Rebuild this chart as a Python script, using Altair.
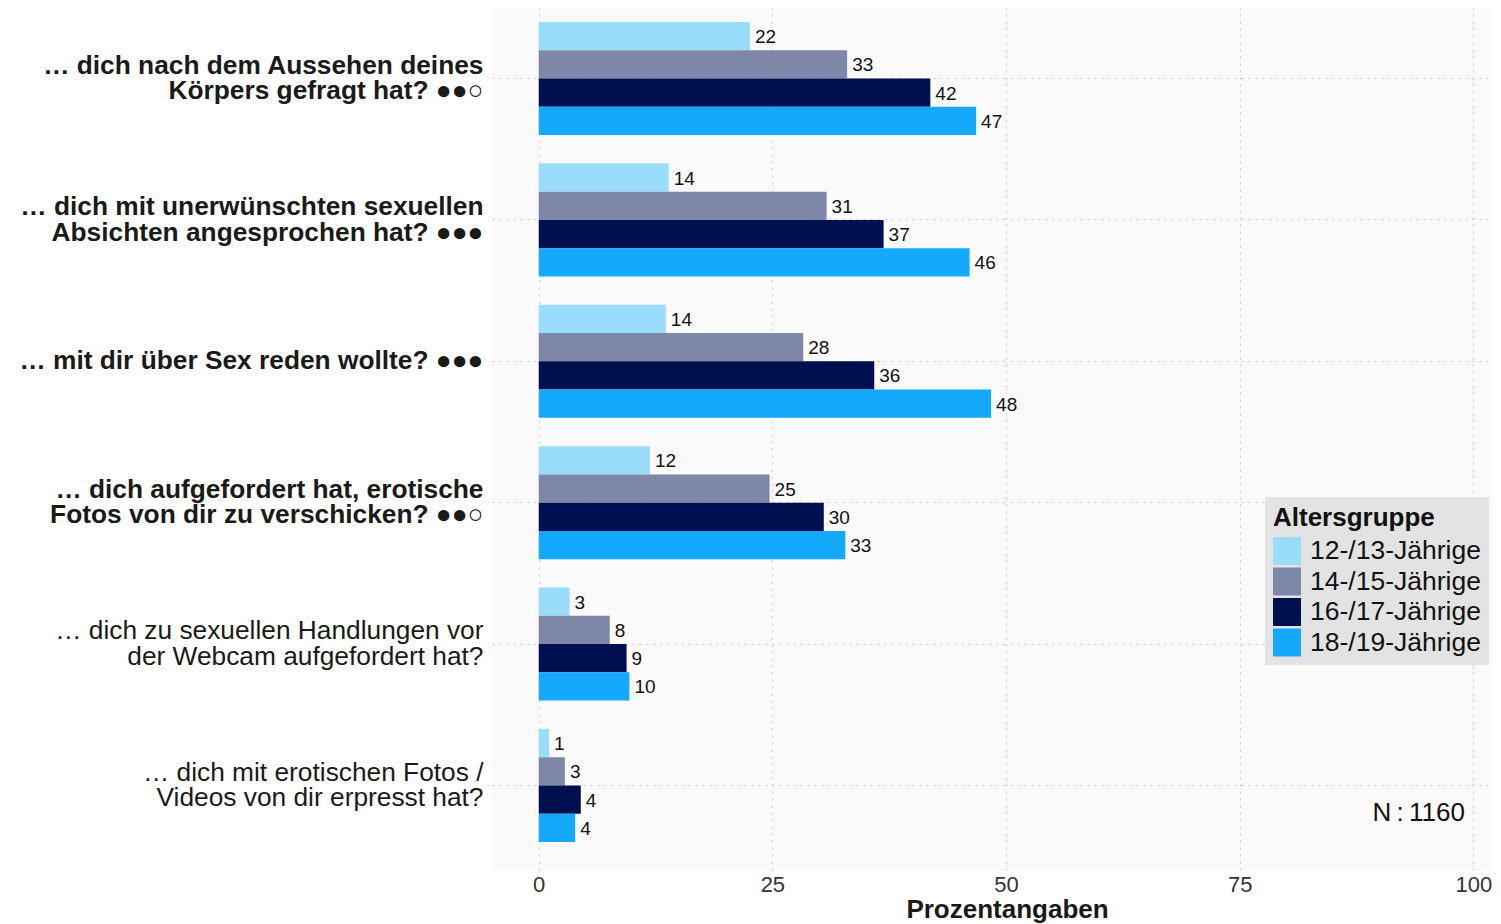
import altair as alt
import pandas as pd

categories = [
    "… dich nach dem Aussehen deines|Körpers gefragt hat? ●●○",
    "… dich mit unerwünschten sexuellen|Absichten angesprochen hat? ●●●",
    "… mit dir über Sex reden wollte? ●●●",
    "… dich aufgefordert hat, erotische|Fotos von dir zu verschicken? ●●○",
    "… dich zu sexuellen Handlungen  vor|der Webcam aufgefordert hat?",
    "… dich mit erotischen Fotos /|Videos von dir erpresst hat?",
]
groups = ["12-/13-Jährige", "14-/15-Jährige", "16-/17-Jährige", "18-/19-Jährige"]
colors = ["#9ADCFB", "#7F87A8", "#000F50", "#14A9FA"]

# bar lengths (percent)
vals_12_13 = [22.6, 13.9, 13.6, 11.9, 3.3, 1.1]
vals_14_15 = [33.0, 30.8, 28.3, 24.7, 7.6, 2.8]
vals_16_17 = [41.9, 36.9, 35.9, 30.5, 9.4, 4.5]
vals_18_19 = [46.8, 46.1, 48.4, 32.8, 9.7, 3.9]
# printed labels
lab_12_13 = [22, 14, 14, 12, 3, 1]
lab_14_15 = [33, 31, 28, 25, 8, 3]
lab_16_17 = [42, 37, 36, 30, 9, 4]
lab_18_19 = [47, 46, 48, 33, 10, 4]

note_text = "N\u2009:\u20091160"
note_x = 99.1

rows = []
for g, vs, ls in zip(groups,
                     [vals_12_13, vals_14_15, vals_16_17, vals_18_19],
                     [lab_12_13, lab_14_15, lab_16_17, lab_18_19]):
    for c, v, l in zip(categories, vs, ls):
        rows.append({"cat": c, "group": g, "value": v, "label": str(l)})
df = pd.DataFrame(rows)

FONT = "Liberation Sans"
GRID = "#c6c6c6"
DASH = [2, 5]

xscale = alt.Scale(domain=[-5, 102], nice=False, zero=False)

base = alt.Chart(df).encode(
    y=alt.Y(
        "cat:N",
        sort=categories,
        scale=alt.Scale(paddingInner=0.2, paddingOuter=0.1485, align=0.333),
        axis=alt.Axis(
            title=None,
            labelExpr="split(datum.label, '|')",
            labelFontSize=26.3,
            labelLineHeight=25.5,
            labelFont=FONT,
            labelColor="#1a1a1a",
            labelPadding=9,
            labelLimit=0,
            labelBaseline="middle",
            labelOffset={
                "condition": {"test": "indexof(datum.value, '|') >= 0", "value": -12.7},
                "value": 0,
            },
            ticks=False,
            domain=False,
            grid=True,
            gridColor=GRID,
            gridDash=DASH,
            labelFontWeight={
                "condition": {"test": "indexof(datum.value, '●') >= 0", "value": "bold"},
                "value": "normal",
            },
        ),
    ),
    yOffset=alt.YOffset("group:N", sort=groups),
    x=alt.X(
        "value:Q",
        scale=xscale,
        axis=alt.Axis(
            values=[0, 25, 50, 75, 100],
            title="Prozentangaben",
            titleFontSize=26,
            titleFontWeight="bold",
            titleFont=FONT,
            titleColor="#1a1a1a",
            titlePadding=1,
            titleX=515,
            titleAlign="center",
            labelFontSize=22,
            labelFont=FONT,
            labelColor="#333333",
            labelPadding=4,
            labelFlush=False,
            ticks=False,
            domain=False,
            grid=True,
            gridColor=GRID,
            gridDash=DASH,
        ),
    ),
)

bars = base.mark_bar().encode(
    color=alt.Color(
        "group:N",
        sort=groups,
        scale=alt.Scale(domain=groups, range=colors),
        legend=alt.Legend(
            orient="none",
            legendX=773,
            legendY=489,
            fillColor="#e3e3e3",
            padding=8,
            title="Altersgruppe",
            titleFontSize=26,
            titleFontWeight="bold",
            titleFont=FONT,
            titleColor="#111111",
            titlePadding=6,
            labelFontSize=26.5,
            labelFont=FONT,
            labelColor="#111111",
            labelOffset=9,
            labelLimit=0,
            symbolType="square",
            symbolSize=784,
            symbolStrokeWidth=0,
            symbolOpacity=1,
            rowPadding=2.5,
        ),
    )
)

labels = base.mark_text(
    align="left", baseline="middle", dx=5, dy=1, fontSize=19, font=FONT, color="#111111"
).encode(text="label:N")

note_df = pd.DataFrame({"value": [note_x], "t": [note_text]})
note = alt.Chart(note_df).mark_text(
    align="right", baseline="middle", fontSize=26, font=FONT, color="#111111"
).encode(
    x=alt.X("value:Q", scale=xscale),
    y=alt.value(805),
    text="t:N",
)

chart = (
    alt.layer(bars, labels, note)
    .properties(
        width=1000,
        height=862,
        padding={"left": 484, "top": 0, "right": 0, "bottom": 54},
        autosize=alt.AutoSizeParams(type="none"),
        background="white",
    )
    .configure_view(fill="#fafafa", strokeWidth=0)
)

chart.save("out.html", embed_options={"renderer": "svg", "actions": False})
